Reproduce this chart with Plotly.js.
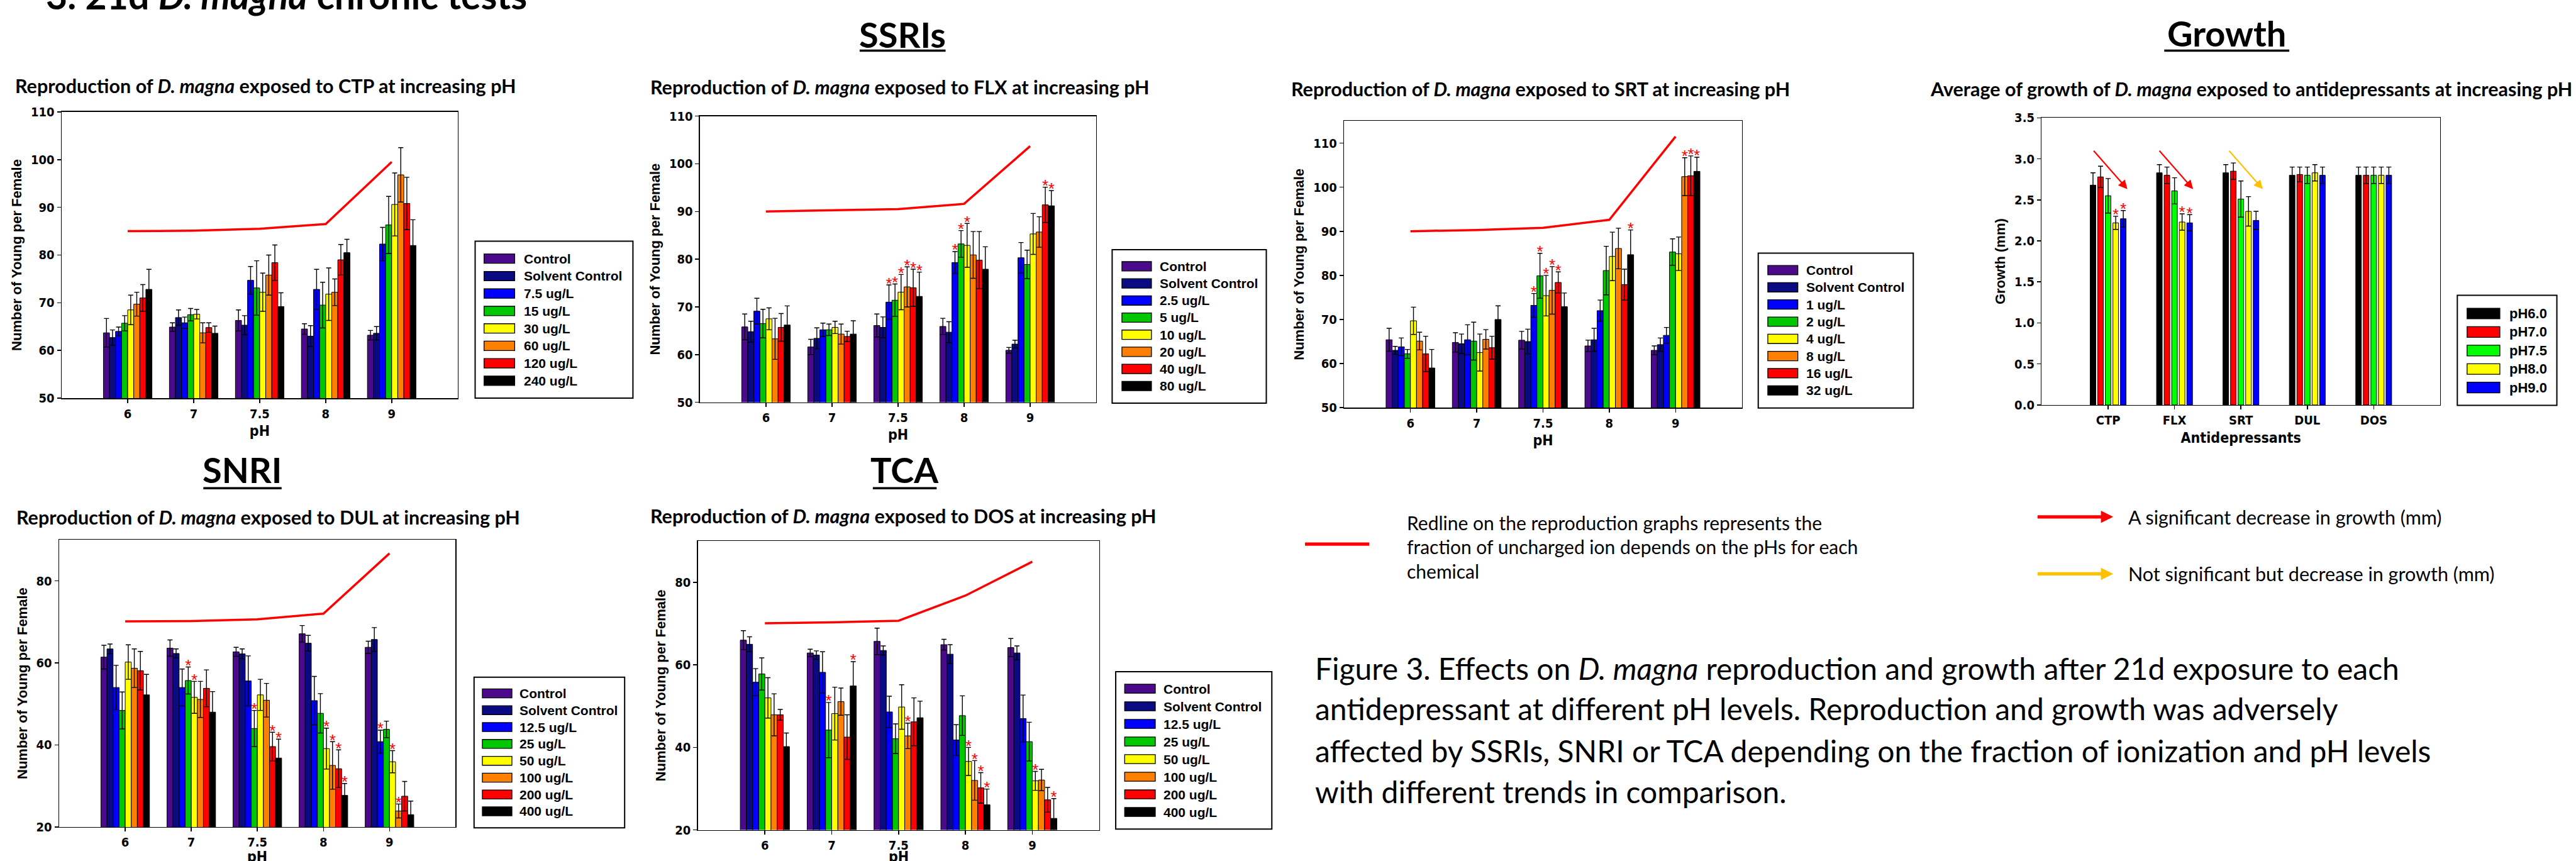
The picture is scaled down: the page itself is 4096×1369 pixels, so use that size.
<!DOCTYPE html>
<html>
<head>
<meta charset="utf-8">
<script src="https://cdn.plot.ly/plotly-3.0.1.min.js"></script>
<style>
html,body{margin:0;padding:0;background:#ffffff;overflow:hidden;}
#chart{width:4096px;height:1369px;}
</style>
</head>
<body>
<div id="chart"></div>
<script>
// ================= DATA =================
const phLabels = ['6', '7', '7.5', '8', '9'];
const drugLabels = ['CTP', 'FLX', 'SRT', 'DUL', 'DOS'];
const growthSeries = ['pH6.0', 'pH7.0', 'pH7.5', 'pH8.0', 'pH9.0'];

const ctpSeries = ['Control', 'Solvent Control', '7.5 ug/L', '15 ug/L', '30 ug/L', '60 ug/L', '120 ug/L', '240 ug/L'];
const flxSeries = ['Control', 'Solvent Control', '2.5 ug/L', '5 ug/L', '10 ug/L', '20 ug/L', '40 ug/L', '80 ug/L'];
const srtSeries = ['Control', 'Solvent Control', '1 ug/L', '2 ug/L', '4 ug/L', '8 ug/L', '16 ug/L', '32 ug/L'];
const dulSeries = ['Control', 'Solvent Control', '12.5 ug/L', '25 ug/L', '50 ug/L', '100 ug/L', '200 ug/L', '400 ug/L'];
const dosSeries = ['Control', 'Solvent Control', '12.5 ug/L', '25 ug/L', '50 ug/L', '100 ug/L', '200 ug/L', '400 ug/L'];

// rows = pH (6, 7, 7.5, 8, 9); columns = series in legend order
const ctpMean = [
  [63.7, 62.7, 64.0, 65.7, 68.5, 69.7, 71.0, 72.8],
  [64.9, 66.9, 65.8, 67.5, 67.6, 63.7, 64.8, 63.6],
  [66.3, 65.3, 74.7, 73.1, 72.2, 75.8, 78.4, 69.2],
  [64.5, 63.0, 72.8, 69.5, 71.8, 72.2, 79.0, 80.5],
  [63.2, 63.6, 82.3, 86.3, 90.6, 96.8, 90.8, 82.0]
];
const ctpErr = [
  [3.0, 1.6, 0.9, 1.6, 3.1, 2.5, 2.8, 4.2],
  [0.9, 1.6, 1.2, 1.3, 1.0, 2.1, 1.0, 1.5],
  [2.2, 2.0, 2.9, 5.7, 4.0, 4.2, 3.7, 2.9],
  [1.1, 2.2, 4.2, 4.8, 5.5, 2.8, 3.2, 2.8],
  [1.0, 1.4, 3.5, 6.0, 6.6, 5.7, 5.5, 5.4]
];
const ctpSig = [
  [0,0,0,0,0,0,0,0],[0,0,0,0,0,0,0,0],[0,0,0,0,0,0,0,0],[0,0,0,0,0,0,0,0],[0,0,0,0,0,0,0,0]
];
const ctpFrac = [85.0, 85.1, 85.5, 86.5, 99.5];

const flxMean = [
  [65.8, 64.8, 69.1, 66.5, 67.5, 63.3, 65.7, 66.2],
  [61.6, 63.4, 65.2, 65.2, 65.7, 64.3, 63.8, 64.3],
  [66.1, 65.7, 71.0, 71.4, 73.1, 74.2, 74.0, 72.2],
  [65.9, 64.7, 79.3, 83.2, 82.9, 80.9, 79.8, 77.9],
  [60.9, 62.2, 80.3, 78.9, 85.3, 85.7, 91.4, 91.2]
];
const flxErr = [
  [2.7, 2.2, 2.7, 3.0, 2.3, 4.3, 2.9, 4.0],
  [1.6, 2.2, 1.4, 1.2, 1.3, 2.1, 1.1, 2.8],
  [2.4, 2.2, 3.6, 3.4, 3.7, 4.2, 3.9, 5.1],
  [1.7, 2.2, 2.3, 2.8, 4.6, 4.9, 6.0, 4.7],
  [0.6, 0.8, 3.2, 3.0, 4.3, 3.2, 3.7, 3.2]
];
const flxSig = [
  [0,0,0,0,0,0,0,0],[0,0,0,0,0,0,0,0],[0,0,1,1,1,1,1,1],[0,0,1,1,1,0,0,0],[0,0,0,0,0,0,1,1]
];
const flxFrac = [90.0, 90.2, 90.5, 91.6, 103.7];

const srtMean = [
  [65.4, 63.0, 63.8, 62.2, 69.7, 65.1, 62.2, 59.0],
  [64.8, 64.5, 65.4, 65.1, 62.5, 65.5, 63.6, 70.0],
  [65.3, 65.0, 73.2, 79.9, 75.4, 76.6, 78.4, 72.9],
  [64.0, 65.4, 72.0, 81.1, 84.3, 86.1, 77.9, 84.7],
  [63.0, 64.3, 66.4, 85.3, 84.9, 102.4, 102.6, 103.6]
];
const srtErr = [
  [2.6, 0.9, 2.0, 1.0, 3.1, 2.0, 4.0, 4.2],
  [2.2, 2.2, 3.4, 4.3, 4.2, 2.2, 2.6, 3.1],
  [2.0, 2.8, 2.7, 5.1, 4.6, 5.4, 2.4, 3.1],
  [1.3, 2.6, 2.4, 5.5, 5.5, 4.6, 3.5, 5.6],
  [1.0, 1.5, 1.8, 3.0, 3.8, 4.3, 4.5, 3.2]
];
const srtSig = [
  [0,0,0,0,0,0,0,0],[0,0,0,0,0,0,0,0],[0,0,1,1,1,1,1,0],[0,0,0,0,0,0,0,1],[0,0,0,0,0,1,1,1]
];
const srtFrac = [90.0, 90.3, 90.8, 92.6, 111.5];

const dulMean = [
  [61.4, 63.4, 54.0, 48.4, 60.2, 58.7, 58.1, 52.2],
  [63.6, 62.3, 54.0, 55.7, 51.6, 51.1, 53.8, 48.0],
  [62.7, 62.2, 55.6, 44.0, 52.2, 50.9, 39.6, 36.8],
  [67.1, 64.8, 50.8, 47.7, 39.1, 35.0, 34.2, 27.7],
  [63.8, 65.7, 40.8, 43.8, 35.9, 23.9, 27.5, 23.0]
];
const dulErr = [
  [2.9, 1.2, 5.4, 4.5, 4.2, 4.7, 4.7, 5.0],
  [2.0, 1.1, 4.5, 3.3, 3.9, 4.4, 4.5, 5.0],
  [1.1, 1.2, 6.1, 4.4, 3.8, 4.1, 3.5, 4.6],
  [2.0, 1.9, 5.9, 4.8, 5.0, 5.8, 4.6, 2.9],
  [1.5, 2.9, 2.8, 2.0, 2.7, 1.7, 3.6, 3.3]
];
const dulSig = [
  [0,0,0,0,0,0,0,0],[0,0,0,1,1,0,0,0],[0,0,0,1,0,0,1,1],[0,0,0,0,1,1,1,1],[0,0,1,0,1,1,0,0]
];
const dulFrac = [70.1, 70.2, 70.6, 72.0, 86.7];

const dosMean = [
  [66.0, 65.0, 55.8, 57.8, 52.0, 47.9, 47.9, 40.2],
  [62.9, 62.4, 58.2, 44.2, 48.2, 51.1, 42.5, 54.9],
  [65.7, 63.5, 48.6, 42.1, 49.8, 42.8, 46.2, 47.2],
  [64.9, 62.6, 41.8, 47.7, 36.6, 32.0, 30.2, 26.1],
  [64.2, 62.9, 47.0, 41.4, 31.9, 32.1, 27.3, 22.8]
];
const dosErr = [
  [2.3, 1.8, 3.3, 3.9, 4.9, 5.1, 1.3, 3.3],
  [0.9, 1.0, 5.0, 6.7, 6.4, 3.3, 5.4, 5.9],
  [3.2, 1.1, 3.8, 3.6, 5.4, 3.1, 5.8, 4.0],
  [1.3, 2.3, 3.7, 4.8, 3.4, 4.8, 3.7, 3.8],
  [2.2, 1.7, 5.7, 4.7, 2.3, 2.6, 3.0, 4.8]
];
const dosSig = [
  [0,0,0,0,0,0,0,0],[0,0,0,1,0,0,0,1],[0,0,0,0,0,1,0,0],[0,0,0,0,1,1,1,1],[0,0,0,0,1,0,0,1]
];
const dosFrac = [70.1, 70.3, 70.7, 76.8, 85.0];

// growth: rows = drug, columns = pH series
const growthMean = [
  [2.68, 2.78, 2.55, 2.22, 2.27],
  [2.83, 2.80, 2.61, 2.23, 2.22],
  [2.83, 2.85, 2.51, 2.36, 2.25],
  [2.80, 2.81, 2.80, 2.83, 2.80],
  [2.80, 2.80, 2.80, 2.80, 2.80]
];
const growthErr = [
  [0.15, 0.13, 0.21, 0.08, 0.10],
  [0.10, 0.10, 0.16, 0.10, 0.10],
  [0.10, 0.10, 0.22, 0.18, 0.11],
  [0.10, 0.09, 0.10, 0.10, 0.10],
  [0.10, 0.10, 0.10, 0.10, 0.10]
];
const growthSig = [
  [0,0,0,1,1],[0,0,0,1,1],[0,0,0,0,0],[0,0,0,0,0],[0,0,0,0,0]
];

const reproColors = ['#4B0A8C', '#0A0A82', '#0000FF', '#00C800', '#FFFF00', '#FF8000', '#FF0000', '#000000'];
const growthColors = ['#000000', '#FF0000', '#00FF00', '#FFFF00', '#0000FF'];

// ================= LAYOUT HELPERS =================
const W = 6056, H = 2024, S = 4096 / 6056;
const px = X => X / W;
const py = Y => 1 - Y / H;
const NARROW = '"Liberation Sans Narrow", "Arial Narrow", "DejaVu Sans Condensed", sans-serif';
const ARIAL = '"Liberation Sans", Arial, sans-serif';
const CAL = 'Lato, "Open Sans", sans-serif';

const panels = [
  {series: ctpSeries, mean: ctpMean, err: ctpErr, sig: ctpSig, frac: ctpFrac, colors: reproColors, cats: phLabels,
   xd: [145, 1076], yd: [263, 936], yr: [50, 110], dtick: 10, tick0: 50, fmt: '', gw: 0.735, fill: 1,
   xt: 'pH', yt: 'Number of Young per Female', xtAnn: false},
  {series: flxSeries, mean: flxMean, err: flxErr, sig: flxSig, frac: flxFrac, colors: reproColors, cats: phLabels,
   xd: [1645.5, 2577], yd: [273, 945.6], yr: [50, 110], dtick: 10, tick0: 50, fmt: '', gw: 0.735, fill: 1,
   xt: 'pH', yt: 'Number of Young per Female', xtAnn: false},
  {series: srtSeries, mean: srtMean, err: srtErr, sig: srtSig, frac: srtFrac, colors: reproColors, cats: phLabels,
   xd: [3160, 4095], yd: [284.6, 958.3], yr: [50, 115], dtick: 10, tick0: 50, fmt: '', gw: 0.735, fill: 1,
   xt: 'pH', yt: 'Number of Young per Female', xtAnn: false},
  {series: growthSeries, mean: growthMean, err: growthErr, sig: growthSig, frac: null, colors: growthColors, cats: drugLabels,
   xd: [4800, 5736.5], yd: [277, 952], yr: [0, 3.5], dtick: 0.5, tick0: 0, fmt: '.1f', gw: 0.57, fill: 0.74,
   xt: 'Antidepressants', yt: 'Growth (mm)', xtAnn: false},
  {series: dulSeries, mean: dulMean, err: dulErr, sig: dulSig, frac: dulFrac, colors: reproColors, cats: phLabels,
   xd: [139, 1071], yd: [1269, 1944], yr: [20, 90], dtick: 20, tick0: 20, fmt: '', gw: 0.735, fill: 1,
   xt: 'pH', yt: 'Number of Young per Female', xtAnn: true},
  {series: dosSeries, mean: dosMean, err: dosErr, sig: dosSig, frac: dosFrac, colors: reproColors, cats: phLabels,
   xd: [1641, 2584], yd: [1272, 1951], yr: [20, 90], dtick: 20, tick0: 20, fmt: '', gw: 0.735, fill: 1,
   xt: 'pH', yt: 'Number of Young per Female', xtAnn: true}
];

const legendBoxes = [
  {box: [1117, 567, 1488, 936], row0: 608, gap: 41, sw: [1138, 1210], tx: 1229, swH: 22, fs: 21},
  {box: [2614.6, 587, 2977, 947.6], row0: 626, gap: 40.2, sw: [2637.6, 2707], tx: 2723.7, swH: 22, fs: 21},
  {box: [4133.5, 595, 4498, 959], row0: 635, gap: 40.4, sw: [4156, 4226.6], tx: 4243, swH: 22, fs: 21},
  {box: [5777, 694, 6011, 953], row0: 737, gap: 43.5, sw: [5800, 5877], tx: 5896, swH: 25, fs: 22},
  {box: [1114.5, 1592, 1468.5, 1946], row0: 1630, gap: 39.6, sw: [1134, 1203.5], tx: 1218, swH: 21, fs: 21},
  {box: [2623, 1579, 2990, 1949], row0: 1619, gap: 41.4, sw: [2644, 2716], tx: 2733, swH: 21, fs: 21}
];

const panelTitles = [
  {x: 32, y: 201, t: 'Reproduction of <i>D. magna</i> exposed to CTP at increasing pH'},
  {x: 1526, y: 204, t: 'Reproduction of <i>D. magna</i> exposed to FLX at increasing pH'},
  {x: 3033, y: 209, t: 'Reproduction of <i>D. magna</i> exposed to SRT at increasing pH'},
  {x: 4535, y: 209, t: 'Average of growth of <i>D. magna</i> exposed to antidepressants at increasing pH'},
  {x: 35, y: 1216, t: 'Reproduction of <i>D. magna</i> exposed to DUL at increasing pH'},
  {x: 1526, y: 1213, t: 'Reproduction of <i>D. magna</i> exposed to DOS at increasing pH'}
];

const sectionHeads = [
  {t: 'SSRIs', x: 2121, y: 80, u: [2021, 2223, 119]},
  {t: 'Growth', x: 5234, y: 77, u: [5088, 5382, 119]},
  {t: 'SNRI', x: 569, y: 1104, u: [478, 662, 1147.5]},
  {t: 'TCA', x: 2127, y: 1104, u: [2052, 2202, 1147.5]}
];

const redlineNote = ['Redline on the reproduction graphs represents the', 'fraction of uncharged ion depends on the pHs for each', 'chemical'];
const arrowNotes = [
  {t: 'A significant decrease in growth (mm)', color: '#FF0000', y: 1215},
  {t: 'Not significant but decrease in growth (mm)', color: '#FFC000', y: 1349}
];
const captionLines = [
  'Figure 3. Effects on <i>D. magna</i> reproduction and growth after 21d exposure to each',
  'antidepressant at different pH levels. Reproduction and growth was adversely',
  'affected by SSRIs, SNRI or TCA depending on the fraction of ionization and pH levels',
  'with different trends in comparison.'
];
const captionY = [1571, 1666, 1765, 1860];

// growth trend arrows (drug index, colour, x offsets within group)
const growthArrows = [
  {d: 0, color: '#FF0000', dx: [-0.23, 0.29]},
  {d: 1, color: '#FF0000', dx: [-0.24, 0.28]},
  {d: 2, color: '#FFC000', dx: [-0.19, 0.33]}
];
const growthArrowY = [3.11, 2.63];

// ================= BUILD =================
const traces = [];
const shapes = [];
const annotations = [];
const layout = {
  width: 4096, height: 1369,
  margin: {l: 0, r: 0, t: 0, b: 0, pad: 0},
  paper_bgcolor: '#ffffff', plot_bgcolor: '#ffffff',
  showlegend: false, barmode: 'overlay'
};

panels.forEach((p, k) => {
  const sfx = k === 0 ? '' : String(k + 1);
  const xa = 'x' + sfx, ya = 'y' + sfx;
  const nCat = p.cats.length, nSer = p.series.length;
  const catIdx = p.cats.map((_, i) => i);
  const slot = p.gw / nSer;
  const bw = slot * p.fill;
  const sx = [], sy = [];
  for (let j = 0; j < nSer; j++) {
    const off = -p.gw / 2 + j * slot + (slot - bw) / 2;
    const ys = p.mean.map(r => r[j]);
    const es = p.err.map(r => r[j]);
    traces.push({
      type: 'bar', xaxis: xa, yaxis: ya, name: p.series[j],
      x: catIdx, y: ys, width: bw, offset: off,
      marker: {color: p.colors[j], line: {color: '#000000', width: 1}},
      error_y: {type: 'data', array: es, visible: true, color: '#000000', thickness: 1.4, width: 4},
      hoverinfo: 'skip', showlegend: false
    });
    for (let i = 0; i < nCat; i++) {
      if (p.sig[i][j]) { sx.push(i + off + bw / 2); sy.push(ys[i] + es[i]); }
    }
  }
  if (sx.length) {
    traces.push({type: 'scatter', mode: 'text', xaxis: xa, yaxis: ya, x: sx, y: sy,
      text: sx.map(() => '*'), textposition: 'middle center',
      textfont: {family: ARIAL, size: 26, color: '#FF0000'}, hoverinfo: 'skip', showlegend: false, cliponaxis: false});
  }
  if (p.frac) {
    traces.push({type: 'scatter', mode: 'lines', xaxis: xa, yaxis: ya, x: catIdx, y: p.frac,
      line: {color: '#FF0000', width: 3.5}, hoverinfo: 'skip', showlegend: false});
  }
  const common = {showline: true, mirror: true, linecolor: '#000000', linewidth: 1.5, ticks: 'outside',
    ticklen: 6, tickwidth: 1.5, tickcolor: '#000000', showgrid: false, zeroline: false, fixedrange: true,
    tickfont: {family: NARROW, size: 20, color: '#000000', weight: 'bold'}};
  const xTitleFont = {family: NARROW, size: 23, color: '#000000', weight: 'bold'};
  layout['xaxis' + sfx] = Object.assign({}, common, {
    domain: [px(p.xd[0]), px(p.xd[1])], anchor: ya, range: [-1, nCat],
    tickmode: 'array', tickvals: catIdx, ticktext: p.cats,
    title: {text: p.xtAnn ? '' : p.xt, font: xTitleFont, standoff: 8}
  });
  if (p.xtAnn) {
    annotations.push({xref: 'paper', yref: 'paper', x: px((p.xd[0] + p.xd[1]) / 2), y: py(2014),
      xanchor: 'center', yanchor: 'middle', text: p.xt, showarrow: false, font: xTitleFont});
  }
  layout['yaxis' + sfx] = Object.assign({}, common, {
    domain: [py(p.yd[1]), py(p.yd[0])], anchor: xa, range: p.yr,
    tickmode: 'linear', tick0: p.tick0, dtick: p.dtick, tickformat: p.fmt,
    title: {text: p.yt, font: {family: ARIAL, size: 22, color: '#000000', weight: 'bold'}, standoff: 8}
  });

  // manual legend
  const L = legendBoxes[k];
  shapes.push({type: 'rect', xref: 'paper', yref: 'paper', x0: px(L.box[0]), x1: px(L.box[2]),
    y0: py(L.box[3]), y1: py(L.box[1]), line: {color: '#000000', width: 2}, fillcolor: 'rgba(0,0,0,0)'});
  p.series.forEach((name, j) => {
    const yc = L.row0 + j * L.gap;
    shapes.push({type: 'rect', xref: 'paper', yref: 'paper', x0: px(L.sw[0]), x1: px(L.sw[1]),
      y0: py(yc + L.swH / 2), y1: py(yc - L.swH / 2), fillcolor: p.colors[j], line: {color: '#000000', width: 1.3}});
    annotations.push({xref: 'paper', yref: 'paper', x: px(L.tx), y: py(yc), xanchor: 'left', yanchor: 'middle',
      text: name, showarrow: false, font: {family: ARIAL, size: L.fs, color: '#000000', weight: 'bold'}});
  });
});

// panel titles
panelTitles.forEach(t => annotations.push({xref: 'paper', yref: 'paper', x: px(t.x), y: py(t.y),
  xanchor: 'left', yanchor: 'middle', text: '<b>' + t.t + '</b>', showarrow: false,
  font: {family: CAL, size: 30.5, color: '#000000'}}));

// section heads with underline
sectionHeads.forEach(s => {
  annotations.push({xref: 'paper', yref: 'paper', x: px(s.x), y: py(s.y), xanchor: 'center', yanchor: 'middle',
    text: '<b>' + s.t + '</b>', showarrow: false, font: {family: CAL, size: 56, color: '#000000'}});
  shapes.push({type: 'line', xref: 'paper', yref: 'paper', x0: px(s.u[0]), x1: px(s.u[1]), y0: py(s.u[2]), y1: py(s.u[2]),
    line: {color: '#000000', width: 3.5}});
});

// main title (cut at top edge, as in the reference)
annotations.push({xref: 'paper', yref: 'paper', x: px(105), y: 1 + 7.3 / 1369, xanchor: 'left', yanchor: 'middle',
  text: '<b>3. 21d <i>D. magna</i> chronic tests</b>', showarrow: false, font: {family: CAL, size: 59, color: '#000000'}});

// red line note
shapes.push({type: 'line', xref: 'paper', yref: 'paper', x0: px(3068), x1: px(3219), y0: py(1279), y1: py(1279),
  line: {color: '#FF0000', width: 5.4}});
redlineNote.forEach((t, i) => annotations.push({xref: 'paper', yref: 'paper', x: px(3304), y: py(1228 + i * 57),
  xanchor: 'left', yanchor: 'middle', text: t, showarrow: false, font: {family: CAL, size: 30, color: '#000000'}}));

// arrow notes
arrowNotes.forEach(a => {
  annotations.push({xref: 'paper', yref: 'paper', x: px(4968), y: py(a.y), ax: -(4968 - 4788) * S, ay: 0,
    text: '', showarrow: true, arrowhead: 2, arrowsize: 0.75, arrowwidth: 5.2, arrowcolor: a.color, standoff: 0});
  annotations.push({xref: 'paper', yref: 'paper', x: px(5000), y: py(a.y), xanchor: 'left', yanchor: 'middle',
    text: a.t, showarrow: false, font: {family: CAL, size: 30.5, color: '#000000'}});
});

// growth arrows
growthArrows.forEach(a => annotations.push({xref: 'x4', yref: 'y4', axref: 'x4', ayref: 'y4',
  x: a.d + a.dx[1], y: growthArrowY[1], ax: a.d + a.dx[0], ay: growthArrowY[0],
  text: '', showarrow: true, arrowhead: 2, arrowsize: 1.3, arrowwidth: 2.2, arrowcolor: a.color, standoff: 0}));

// caption
captionLines.forEach((t, i) => annotations.push({xref: 'paper', yref: 'paper', x: px(3088), y: py(captionY[i]),
  xanchor: 'left', yanchor: 'middle', text: t, showarrow: false, font: {family: CAL, size: 48, color: '#000000'}}));

layout.shapes = shapes;
layout.annotations = annotations;

Plotly.newPlot('chart', traces, layout, {displayModeBar: false, staticPlot: true});
</script>
</body>
</html>
